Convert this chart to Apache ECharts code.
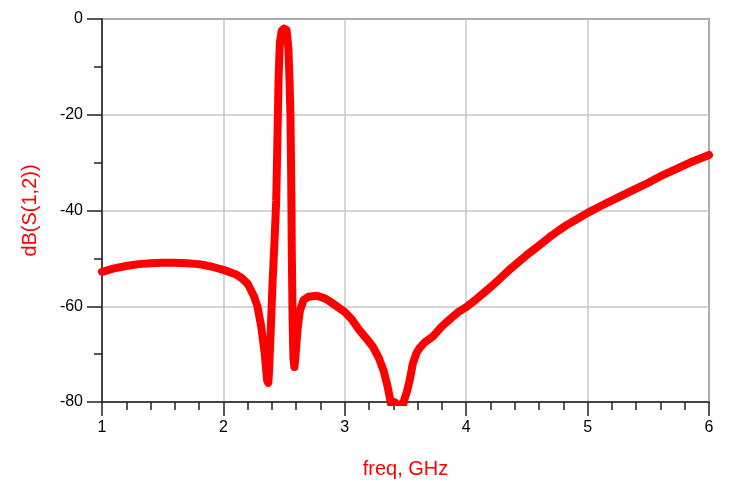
<!DOCTYPE html>
<html>
<head>
<meta charset="utf-8">
<script src="https://cdn.jsdelivr.net/npm/echarts@6/dist/echarts.min.js"></script>
<style>
html,body{margin:0;padding:0;background:#fff;}
#chart{width:735px;height:486px;}
</style>
</head>
<body>
<div id="chart"></div>
<script>
// frequency (GHz)
const freq = [
  1.00,1.10,1.20,1.30,1.40,1.50,1.60,1.70,1.80,1.90,
  2.00,2.10,2.15,2.20,2.25,2.28,2.31,2.34,2.36,2.37,
  2.375,2.39,2.405,2.42,2.435,2.445,2.455,2.465,2.48,2.50,
  2.52,2.535,2.545,2.552,2.558,2.564,2.57,2.577,2.585,2.595,
  2.61,2.63,2.66,2.70,2.77,2.84,2.90,3.00,3.06,3.12,
  3.18,3.23,3.28,3.32,3.35,3.37,3.39,3.41,3.43,3.45,
  3.47,3.49,3.51,3.535,3.56,3.59,3.62,3.66,3.73,3.80,
  3.87,3.93,4.00,4.07,4.14,4.21,4.28,4.35,4.42,4.49,
  4.55,4.62,4.69,4.76,4.83,4.90,5.00,5.12,5.24,5.37,
  5.50,5.62,5.75,5.87,6.00
];
// dB(S(1,2))
const s12 = [
  -52.8,-52.1,-51.6,-51.2,-51.0,-50.9,-50.9,-51.0,-51.2,-51.7,
  -52.4,-53.3,-54.1,-55.3,-57.8,-60.0,-64.0,-69.8,-75.5,-76.0,
  -74.0,-65.0,-55.0,-47.0,-38.0,-25.0,-12.0,-5.0,-2.5,-2.0,
  -2.3,-6.0,-13.0,-20.0,-32.0,-50.0,-63.0,-71.0,-72.7,-70.0,
  -65.0,-61.0,-58.7,-58.0,-57.8,-58.4,-59.4,-61.2,-62.8,-65.0,
  -66.8,-68.4,-70.8,-73.5,-76.5,-79.0,-81.5,-80.0,-82.0,-80.5,
  -82.0,-79.5,-78.0,-75.4,-72.0,-69.8,-68.6,-67.5,-66.2,-64.2,
  -62.6,-61.3,-60.2,-58.8,-57.3,-55.8,-54.2,-52.5,-51.0,-49.5,
  -48.3,-46.9,-45.5,-44.2,-43.0,-42.0,-40.5,-38.9,-37.4,-35.8,
  -34.2,-32.6,-31.1,-29.7,-28.4
];
const xTicks = [1,2,3,4,5,6];
const yTicks = [0,-20,-40,-60,-80];

const data = freq.map((f,i)=>[f,s12[i]]);
const chart = echarts.init(document.getElementById('chart'), null, {renderer:'canvas'});
const font = 'Liberation Sans';
chart.setOption({
  animation:false,
  backgroundColor:'#fff',
  grid:{left:102,right:26,top:19,bottom:84,show:true,borderColor:'#222',borderWidth:1.5,backgroundColor:'transparent'},
  xAxis:{
    type:'value', min:xTicks[0], max:xTicks[xTicks.length-1], interval:1,
    name:'freq, GHz', nameLocation:'middle', nameGap:57,
    nameTextStyle:{color:'#ff0000',fontSize:20,fontFamily:font},
    axisLine:{show:true,onZero:false,lineStyle:{color:'#222',width:1.5}},
    axisTick:{show:true,inside:false,length:14,lineStyle:{color:'#222',width:1.5}},
    minorTick:{show:true,splitNumber:5,length:8,lineStyle:{color:'#222',width:1.5}},
    axisLabel:{color:'#000',fontSize:16,fontFamily:font,margin:18},
    splitLine:{show:true,lineStyle:{color:'#c8c8c8',width:1.5}}
  },
  yAxis:{
    type:'value', min:yTicks[yTicks.length-1], max:yTicks[0], interval:20,
    name:'dB(S(1,2))', nameLocation:'middle', nameGap:62,
    nameTextStyle:{color:'#ff0000',fontSize:20,fontFamily:font},
    axisLine:{show:true,onZero:false,lineStyle:{color:'#222',width:1.5}},
    axisTick:{show:true,inside:false,length:15,lineStyle:{color:'#222',width:1.5}},
    minorTick:{show:true,splitNumber:2,length:8,lineStyle:{color:'#222',width:1.5}},
    axisLabel:{color:'#000',fontSize:16,fontFamily:font,margin:19},
    splitLine:{show:true,lineStyle:{color:'#c8c8c8',width:1.5}}
  },
  series:[{
    type:'line', data:data, showSymbol:false, smooth:false, clip:true,
    lineStyle:{color:'#ff0000',width:8,join:'round',cap:'round'}
  }]
});
</script>
</body>
</html>
